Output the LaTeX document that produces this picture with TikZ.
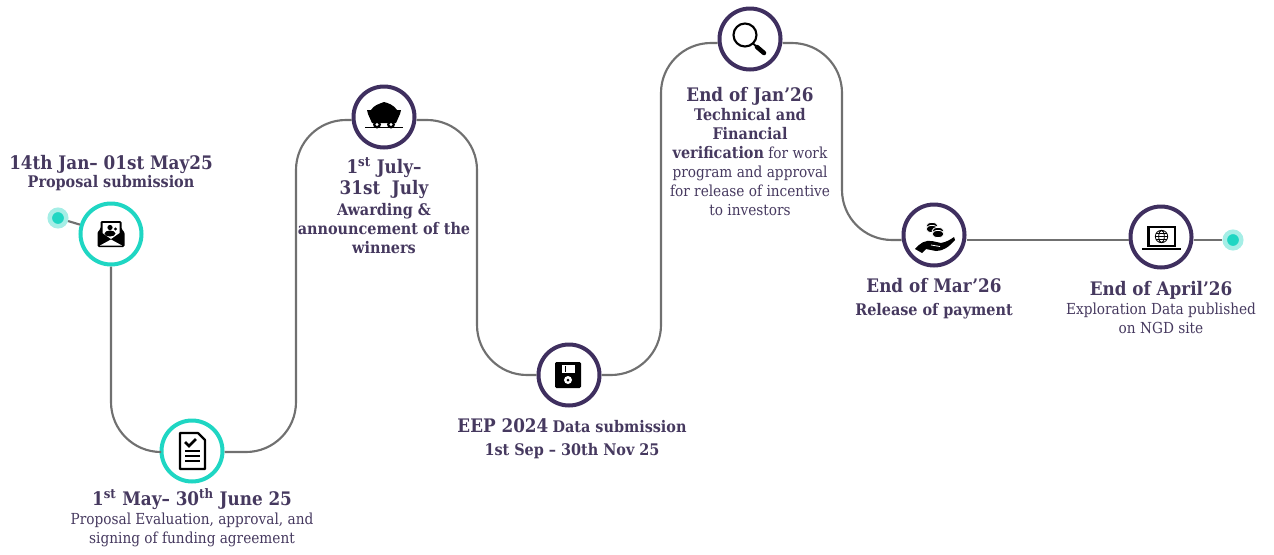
\documentclass[tikz,border=0pt]{standalone}
\usepackage{fontspec}
\setmainfont{DejaVu Serif Condensed}
\usepackage{xcolor}
\usepackage{tikz}
\definecolor{ink}{HTML}{46395F}
\definecolor{plum}{HTML}{3F2F5F}
\definecolor{teal}{HTML}{1FD6C3}
\definecolor{halo}{HTML}{A5EEE6}
\definecolor{wirec}{HTML}{707070}
\newcommand{\headtxt}[1]{{\fontsize{14}{14.25}\selectfont\bfseries #1}}
\newcommand{\subtxt}[1]{{\fontsize{12}{14.25}\selectfont\bfseries #1}}

\begin{document}
\begin{tikzpicture}[
    x=0.75pt, y=-0.75pt,
    stage/.style={circle, draw=plum, fill=white, line width=3pt, minimum size=45.75pt, inner sep=0pt},
    stagenew/.style={stage, draw=teal},
    enddot/.style={circle, fill=teal, draw=halo, line width=3.4pt, minimum size=12.4pt, inner sep=0pt},
    wire/.style={draw=wirec, line width=1.6pt, rounded corners=37.5pt},
    lbl/.style={anchor=north, align=center, inner sep=0pt, text=ink, font=\fontsize{11.4}{14.25}\selectfont}
]
\useasboundingbox (0,0) rectangle (1274,554);

% stages
\node[stagenew] (envelope) at (111,234) {};
\node[stagenew] (report) at (192,451) {};
\node[stage] (cart) at (384,117) {};
\node[stage] (disk) at (569,375) {};
\node[stage] (lens) at (750,39) {};
\node[stage] (payment) at (934,235) {};
\node[stage] (laptop) at (1161,237) {};
\node[enddot] (start) at (58,218) {};
\node[enddot] (finish) at (1233,240) {};

% bends of the line
\coordinate (b1) at (111,452);
\coordinate (b2) at (296,452);
\coordinate (b3) at (296,120);
\coordinate (b4) at (477,120);
\coordinate (b5) at (477,375);
\coordinate (b6) at (661,375);
\coordinate (b7) at (661,43);
\coordinate (b8) at (842,43);
\coordinate (b9) at (842,240);

\draw[wirec, line width=1.6pt] (start) -- (envelope);
\draw[wire] (envelope.south) -- (b1) -- (report.west |- b1);
\draw[wire] (report.east |- b2) -- (b2) -- (b3) -- (cart.west |- b3);
\draw[wire] (cart.east |- b4) -- (b4) -- (b5) -- (disk.west |- b5);
\draw[wire] (disk.east |- b6) -- (b6) -- (b7) -- (lens.west |- b7);
\draw[wire] (lens.east |- b8) -- (b8) -- (b9) -- (payment.west |- b9);
\draw[wire] (payment.east |- b9) -- (laptop.west |- b9);
\draw[wire] (laptop.east |- b9) -- (finish);

% icons
\begin{scope}[shift={(envelope)}]
  \fill[black, rounded corners=1pt] (-13.5,-2) -- (-10.5,-5) -- (-10.5,-13) -- (10.5,-13) -- (10.5,-5) -- (13.5,-2) -- (13.5,13) -- (-13.5,13) -- cycle;
  \fill[white] (-8.5,-11) -- (8.5,-11) -- (8.5,-1) -- (0,5) -- (-8.5,-1) -- cycle;
  \fill[white] (-11,11.5) -- (0,5.5) -- (11,11.5) -- cycle;
  \fill[black] (-1,-6.5) circle (2.6) (4.5,-5) circle (1.7);
  \fill[black] (-1,-0.5) ellipse (5.5 and 3);
\end{scope}
\begin{scope}[shift={(report)}]
  \draw[black, line width=1.6pt, line join=round] (-12,-18) -- (6,-18) -- (13,-11) -- (13,18) -- (-12,18) -- cycle;
  \draw[black, line width=1.9pt] (-7,-9) -- (-3,-5) -- (4,-12);
  \draw[black, line width=1.5pt] (-7,0) -- (8,0) (-7,5) -- (8,5) (-7,10) -- (8,10);
\end{scope}
\begin{scope}[shift={(cart)}]
  \fill[black] (-17,-7) -- (17,-7) -- (16,-3) -- (12,6) -- (-12,6) -- (-16,-3) -- cycle;
  \fill[black] (-13,-7) .. controls (-10,-12) and (-5,-13) .. (0,-15) .. controls (4,-14) and (10,-12) .. (13,-7) -- cycle;
  \fill[black] (-19,9.5) rectangle (19,11.2);
  \fill[black] (-7,7.5) circle (4) (7,7.5) circle (4);
  \fill[white] (-7,7.5) circle (1.6) (7,7.5) circle (1.6);
\end{scope}
\begin{scope}[shift={(disk)}]
  \fill[black, rounded corners=1pt] (-14,-13) rectangle (12,13);
  \fill[white] (-7,-10) rectangle (6,-2);
  \fill[black] (-4.5,-9) rectangle (-3,-3);
  \fill[white] (-1,5) circle (4);
  \fill[black] (-1,5) circle (1.5);
\end{scope}
\begin{scope}[shift={(lens)}]
  \draw[black, line width=1.6pt] (-5,-4) circle (11.5);
  \draw[black, line width=1.4pt] (3,4.5) -- (8,9);
  \draw[black, line width=3.4pt, line cap=round] (7,8) -- (14,14);
\end{scope}
\begin{scope}[shift={(payment)}]
  \fill[black] (-19,14) .. controls (-14,8) and (-9,5) .. (-2,6) -- (7,8) .. controls (12,7) and (16,5) .. (20,2) -- (21,5) .. controls (15,12) and (9,16) .. (2,16) -- (-8,14) -- (-12,18) -- cycle;
  \draw[white, line width=0.6pt] (-3,10) -- (6,11.5);
  \foreach \cx/\cy in {-2/-9,-2/-6,4/-4,4/-1} {
    \draw[white, fill=black, line width=0.6pt] (\cx,\cy) ellipse (6 and 3.6);
  }
\end{scope}
\begin{scope}[shift={(laptop)}]
  \draw[black, line width=1.6pt] (-12.5,-10) rectangle (14,9);
  \fill[black] (-19,10.5) rectangle (20,13);
  \draw[black, line width=0.6pt] (0.5,-0.5) circle (6.2) (0.5,-0.5) ellipse (2.8 and 6.2) (-5.7,-0.5) -- (6.7,-0.5) (-5,-3.5) -- (6,-3.5) (-5,2.5) -- (6,2.5);
\end{scope}

% labels
\node[lbl] (txtenvelope) at (111,155) {\headtxt{14th Jan– 01st May25}\\[-1pt]\subtxt{Proposal submission}};
\node[lbl] (txtreport) at (192,488) {\headtxt{1\textsuperscript{st} May– 30\textsuperscript{th} June 25}\\Proposal Evaluation, approval, and\\signing of funding agreement};
\node[lbl] (txtcart) at (384,157) {\headtxt{1\textsuperscript{st} July–}\\[2pt]\headtxt{31st\ \ July}\\[1pt]\subtxt{Awarding \&}\\\subtxt{announcement of the}\\\subtxt{winners}};
\node[lbl] (txtdisk) at (572,418) {\headtxt{EEP 2024} \subtxt{Data submission}\\[3pt]\subtxt{1st Sep – 30th Nov 25}};
\node[lbl] (txtlens) at (750,87) {\headtxt{End of Jan’26}\\\subtxt{Technical and}\\\subtxt{Financial}\\\subtxt{verification} for work\\program and approval\\for release of incentive\\to investors};
\node[lbl] (txtpayment) at (934,278) {\headtxt{End of Mar’26}\\[3pt]\subtxt{Release of payment}};
\node[lbl] (txtlaptop) at (1161,281) {\headtxt{End of April’26}\\Exploration Data published\\on NGD site};
\end{tikzpicture}
\end{document}
